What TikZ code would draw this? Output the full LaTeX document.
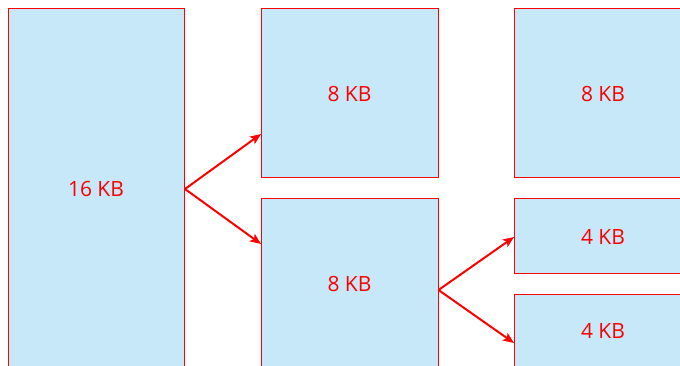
\documentclass[tikz,border=0pt]{standalone}
\usepackage{fontspec}
\setmainfont{Open Sans}
\usetikzlibrary{arrows.meta}
\definecolor{boxfill}{HTML}{C6E8F9}
\definecolor{boxline}{HTML}{FF0000}
\begin{document}
\begin{tikzpicture}[x=1pt,y=-1pt,
  blk/.style={draw=boxline,fill=boxfill,line width=1pt},
  lbl/.style={text=boxline,font=\fontsize{21}{25}\selectfont,inner sep=0pt},
  arr/.style={draw=boxline,line width=2pt,-{Stealth[length=11pt,width=9pt,inset=2.5pt]}}]
\useasboundingbox (0,0) rectangle (680,366);
\begin{scope}
\clip (0,0) rectangle (680,366);
\draw[blk] (8,8.5) rectangle (184.5,372);
\draw[blk] (261,8.5) rectangle (438,178);
\draw[blk] (261,198.5) rectangle (438,372);
\draw[blk] (514,8.5) rectangle (692,178);
\draw[blk] (514,199) rectangle (692,273.5);
\draw[blk] (514,294) rectangle (692,372);
\end{scope}
\node[lbl] (a) at (96,189) {16 KB};
\node[lbl] (b) at (349.5,94) {8 KB};
\node[lbl] (c) at (349.5,284) {8 KB};
\node[lbl] (d) at (603,94) {8 KB};
\node[lbl] (e) at (603,237) {4 KB};
\node[lbl] (f) at (603,331) {4 KB};
\coordinate (a1) at (185,189);
\coordinate (b1) at (261,134);
\coordinate (c1) at (261,244);
\coordinate (c2) at (438.5,290);
\coordinate (e1) at (514,237);
\coordinate (f1) at (514,343);
\draw[arr] (a1) -- (b1);
\draw[arr] (a1) -- (c1);
\draw[arr] (c2) -- (e1);
\draw[arr] (c2) -- (f1);
\end{tikzpicture}
\end{document}
